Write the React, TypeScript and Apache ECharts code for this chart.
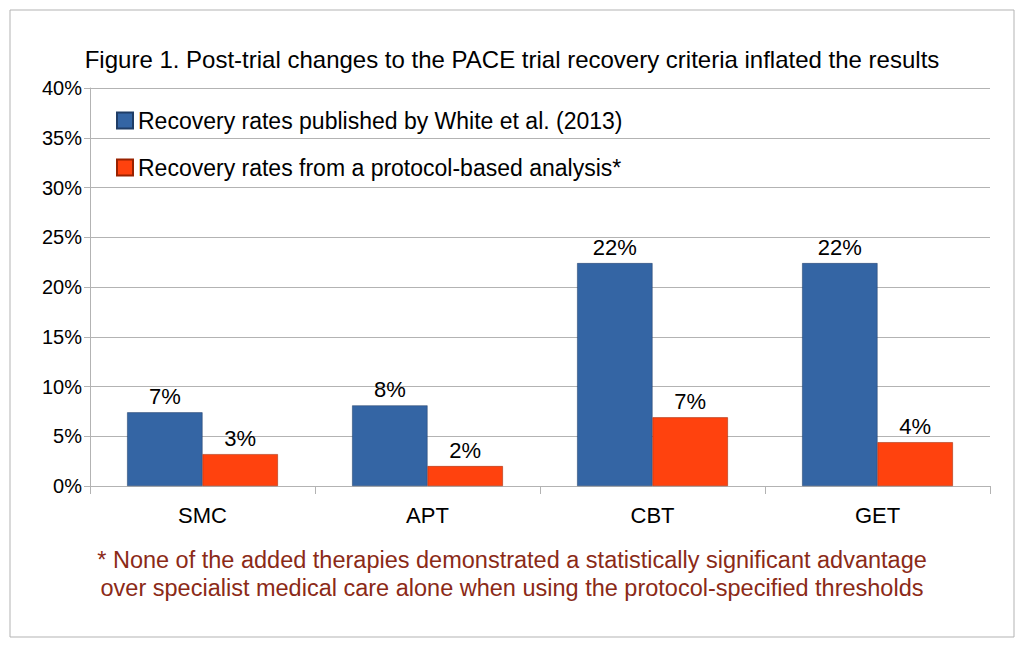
import React, { useEffect, useRef } from "react";
import * as echarts from "echarts";

const categories = ["SMC", "APT", "CBT", "GET"];
const publishedRates = [7.4, 8.1, 22.4, 22.4];
const protocolRates = [3.2, 2.0, 6.9, 4.4];
const yTicks = [0, 5, 10, 15, 20, 25, 30, 35, 40];

export default function App() {
  const ref = useRef<HTMLDivElement>(null);
  useEffect(() => {
    const chart = echarts.init(ref.current!, null, { renderer: "svg" });
    const font = "Liberation Sans, Arial, sans-serif";
    const label = {
      show: true,
      position: "top" as const,
      fontFamily: font,
      fontSize: 22,
      color: "#000",
      formatter: (p: any) => Math.round(p.value) + "%",
    };
    chart.setOption({
      animation: false,
      backgroundColor: "#fff",
      textStyle: { fontFamily: font },
      title: {
        text: "Figure 1. Post-trial changes to the PACE trial recovery criteria inflated the results",
        left: "center",
        top: 42,
        textStyle: { fontSize: 24, fontWeight: "normal", color: "#000", fontFamily: font },
      },
      legend: {
        orient: "vertical",
        left: 111,
        top: 104,
        itemWidth: 16,
        itemHeight: 16,
        itemGap: 24,
        icon: "rect",
        textStyle: { fontSize: 23, color: "#000", fontFamily: font },
      },
      grid: { left: 90, right: 34, top: 88, bottom: 161 },
      xAxis: {
        type: "category",
        data: categories,
        axisLine: { lineStyle: { color: "#b3b3b3" } },
        axisTick: { show: true, length: 8, lineStyle: { color: "#b3b3b3" } },
        axisLabel: { fontSize: 22, color: "#000", margin: 18, fontFamily: font },
      },
      yAxis: {
        type: "value",
        min: 0,
        max: 40,
        interval: 5,
        axisLine: { show: true, lineStyle: { color: "#b3b3b3" } },
        axisTick: { show: true, length: 6, lineStyle: { color: "#b3b3b3" } },
        splitLine: { lineStyle: { color: "#b3b3b3" } },
        axisLabel: {
          fontSize: 20,
          color: "#000",
          fontFamily: font,
          formatter: (v: number) => (yTicks.includes(v) ? v + "%" : ""),
        },
      },
      series: [
        {
          name: "Recovery rates published by White et al. (2013)",
          type: "bar",
          data: publishedRates,
          barGap: "0%",
          barCategoryGap: "33%",
          itemStyle: { color: "#3465a4", borderColor: "#1f3d66", borderWidth: 0.5 },
          label,
        },
        {
          name: "Recovery rates from a protocol-based analysis*",
          type: "bar",
          data: protocolRates,
          itemStyle: { color: "#ff420e", borderColor: "#992200", borderWidth: 0.5 },
          label,
        },
      ],
      graphic: [
        {
          type: "rect",
          shape: { x: 10, y: 10, width: 1004, height: 627 },
          style: { fill: "none", stroke: "#b3b3b3", lineWidth: 1 },
          silent: true,
        },
        {
          type: "text",
          x: 512,
          y: 560,
          style: {
            text: "* None of the added therapies demonstrated a statistically significant advantage",
            fontSize: 23.5,
            fontFamily: font,
            fill: "#8b2a17",
            align: "center",
            verticalAlign: "middle",
          },
        },
        {
          type: "text",
          x: 512,
          y: 588,
          style: {
            text: "over specialist medical care alone when using the protocol-specified thresholds",
            fontSize: 23.5,
            fontFamily: font,
            fill: "#8b2a17",
            align: "center",
            verticalAlign: "middle",
          },
        },
      ],
    });
    return () => chart.dispose();
  }, []);
  return (
    <div
      ref={ref}
      style={{ position: "fixed", left: 0, top: 0, width: 1024, height: 647 }}
    />
  );
}
